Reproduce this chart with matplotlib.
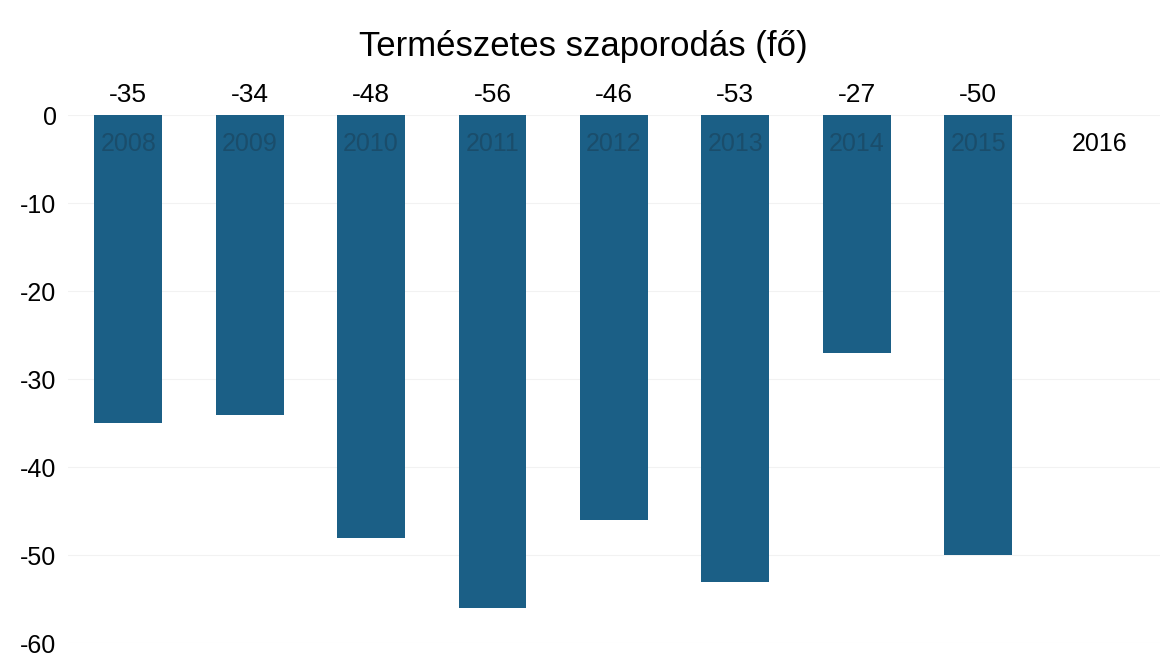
import matplotlib
matplotlib.use("Agg")
import matplotlib.pyplot as plt

years = ["2008", "2009", "2010", "2011", "2012", "2013", "2014", "2015", "2016"]
values = [-35, -34, -48, -56, -46, -53, -27, -50, 0]
yticks = [0, -10, -20, -30, -40, -50, -60]

plt.rcParams["font.family"] = ["Liberation Sans", "DejaVu Sans"]

fig = plt.figure(figsize=(11.66, 6.62), dpi=100)
ax = fig.add_axes([0.058, 0.028, 0.937, 0.798])

x = range(len(years))
ax.bar(x, values, width=0.56, color="#1b5f86", zorder=2)

ax.set_xlim(-0.5, len(years) - 0.5)
ax.set_ylim(-60, 0)
ax.set_yticks(yticks)
ax.set_yticklabels([str(t) for t in yticks], fontsize=18)
ax.tick_params(axis="y", length=0, pad=8)
ax.set_xticks([])
ax.grid(axis="y", color="#f2f2f2", linewidth=0.8, zorder=0)
for s in ax.spines.values():
    s.set_visible(False)

# value labels above the plot area
for i, v in enumerate(values):
    if v != 0:
        ax.annotate(str(v), (i, 0), xytext=(0, 6), textcoords="offset points",
                    ha="center", va="bottom", fontsize=19, annotation_clip=False)

# category labels just under the zero line
for i, (yr, v) in enumerate(zip(years, values)):
    color = "#1a4d6b" if v != 0 else "black"
    ax.text(i, -3.3, yr, ha="center", va="center", fontsize=18, color=color, zorder=3)

fig.text(0.5, 0.93, "Természetes szaporodás (fő)", ha="center", va="center", fontsize=25)

fig.savefig("out.png", dpi=100)
